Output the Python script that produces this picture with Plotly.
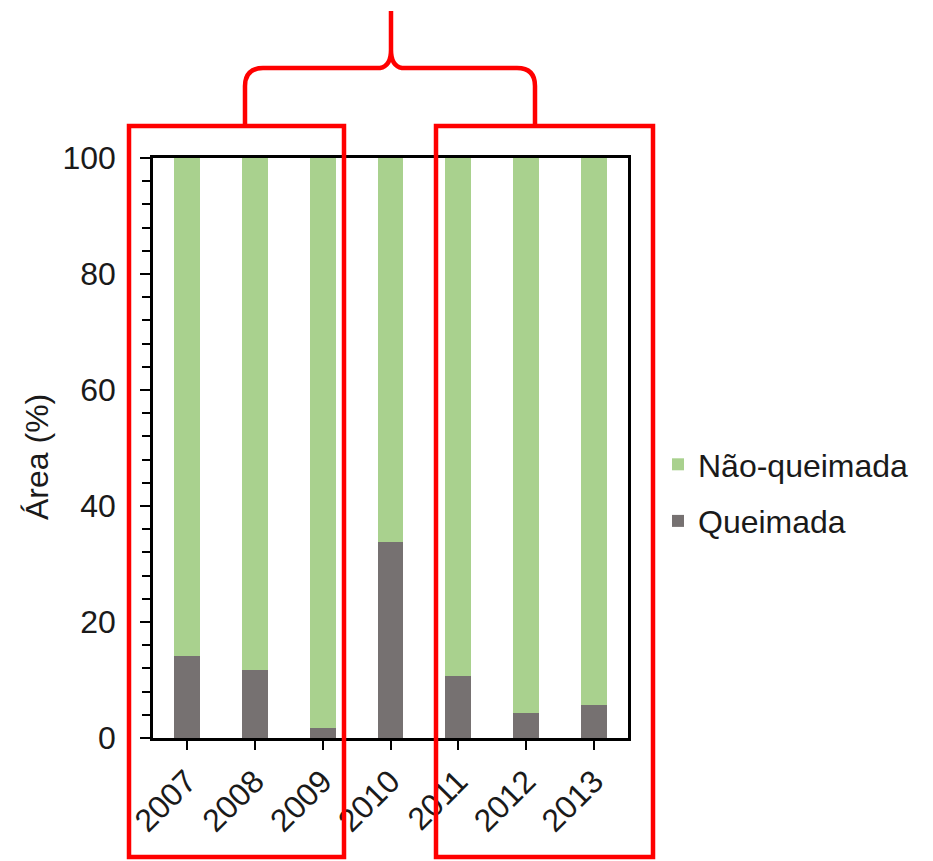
import plotly.graph_objects as go

years = ["2007", "2008", "2009", "2010", "2011", "2012", "2013"]
queimada = [14.1, 11.7, 1.7, 33.8, 10.7, 4.3, 5.7]
nao_queimada = [round(100 - v, 1) for v in queimada]

GREEN = "#A9D18E"
GRAY = "#767171"
RED = "#FF0000"
FONT = "Liberation Sans, Arial, sans-serif"
TXT = "#1a1a1a"
FS = 32

OFF = 8  # page body margin
W, H = 933 - OFF, 861 - OFF
L, R, T, B = 153, 628, 158, 738  # plot area in reference pixels
PW, PH = R - L, B - T


def px(x):
    return (x - L) / PW


def py(y):
    return (B - y) / PH


fig = go.Figure()
fig.add_trace(go.Bar(x=years, y=queimada, name="Queimada", marker_color=GRAY,
                     marker_line_width=0, legendgroup="q", legendrank=2))
fig.add_trace(go.Bar(x=years, y=nao_queimada, name="Não-queimada", marker_color=GREEN,
                     marker_line_width=0, legendgroup="n", legendrank=1))

shapes = []
for x0, x1 in [(129, 344), (436, 653)]:
    shapes.append(dict(type="rect", xref="paper", yref="paper",
                       x0=px(x0), x1=px(x1), y0=py(857), y1=py(126),
                       line=dict(color=RED, width=4.5), fillcolor="rgba(0,0,0,0)",
                       layer="above"))

pts = [("M", [(245, 126)]), ("L", [(245, 86)]), ("Q", [(245, 68), (263, 68)]),
       ("L", [(380, 68)]), ("Q", [(391, 66), (391, 50)]), ("L", [(391, 11)]),
       ("L", [(391, 50)]), ("Q", [(391, 66), (402, 68)]), ("L", [(517, 68)]),
       ("Q", [(535, 68), (535, 86)]), ("L", [(535, 126)])]
path = " ".join(cmd + " " + " ".join(f"{px(a):.5f},{py(b):.5f}" for a, b in p) for cmd, p in pts)
shapes.append(dict(type="path", xref="paper", yref="paper", path=path,
                   line=dict(color=RED, width=4.5), layer="above"))

fig.update_layout(
    width=W, height=H,
    margin=dict(l=L - OFF, r=933 - R, t=T - OFF, b=861 - B, pad=0),
    paper_bgcolor="white", plot_bgcolor="white",
    barmode="stack", bargap=0.62,
    font=dict(family=FONT, size=FS, color=TXT),
    showlegend=True,
    legend=dict(x=px(658), y=py(493), xanchor="left", yanchor="middle",
                traceorder="grouped", tracegroupgap=12,
                font=dict(size=FS, family=FONT, color=TXT), itemwidth=30,
                bgcolor="rgba(0,0,0,0)"),
    shapes=shapes,
    annotations=[dict(text="Área (%)", xref="paper", yref="paper",
                      x=px(37), y=py(457), xanchor="center", yanchor="middle",
                      textangle=-90, showarrow=False,
                      font=dict(size=FS, family=FONT, color=TXT))],
)

fig.update_xaxes(
    type="category", tickangle=-45, showline=True, linecolor="black", linewidth=2.5,
    mirror=True, ticks="outside", ticklen=9, tickwidth=2, tickcolor="black",
    tickfont=dict(size=FS, family=FONT, color=TXT), showgrid=False,
)
fig.update_yaxes(
    range=[0, 100], dtick=20, showline=True, linecolor="black", linewidth=2.5,
    mirror=True, ticks="outside", ticklen=10, tickwidth=2, tickcolor="black",
    minor=dict(dtick=4, ticks="outside", ticklen=8, tickwidth=2, tickcolor="black",
               showgrid=False),
    tickfont=dict(size=FS, family=FONT, color=TXT), showgrid=False,
    zeroline=False, ticklabelstandoff=18,
)

fig.write_html("out.html")
